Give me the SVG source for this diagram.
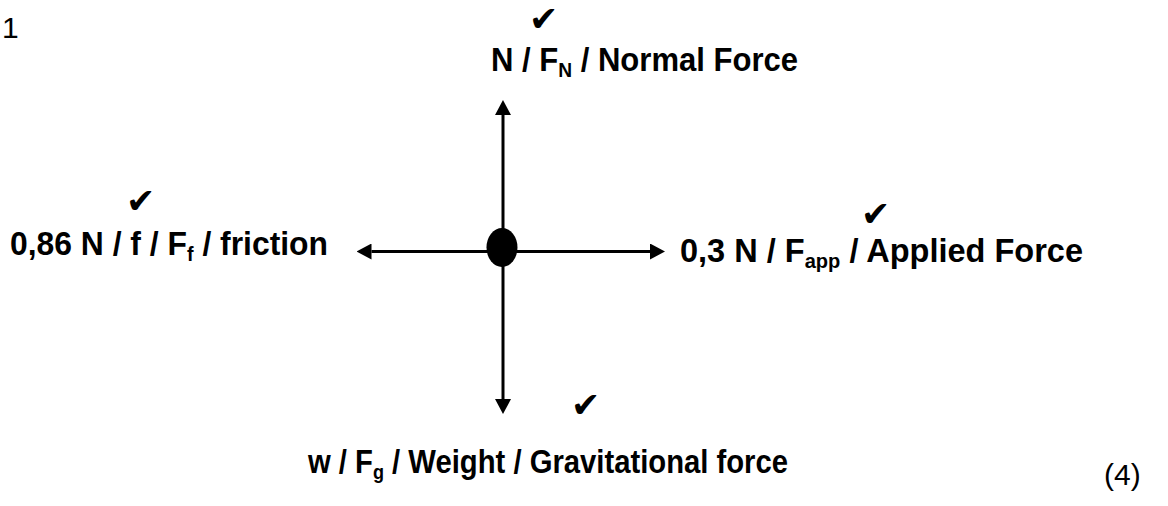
<svg xmlns="http://www.w3.org/2000/svg" width="1168" height="506" viewBox="0 0 1168 506">
<style>
.lbl{font-family:"Liberation Sans",Arial,sans-serif;font-weight:bold;font-size:34px;fill:#000}
.sub{font-size:21px}
.chk{font-family:"DejaVu Sans",sans-serif;font-size:35px;fill:#000}
.plain{font-family:"Liberation Sans",Arial,sans-serif;font-size:30px;fill:#000}
.force{stroke:#000;stroke-width:3;fill:none;marker-end:url(#arrow)}
</style>
<defs>
<marker id="arrow" viewBox="0 -8 15 16" markerWidth="15" markerHeight="16" refX="0" refY="0" markerUnits="userSpaceOnUse" orient="auto">
<path d="M0,-8 L15,0 L0,8 Z" fill="#000"/>
</marker>
</defs>
<rect width="1168" height="506" fill="#fff"/>
<text class="plain" x="2" y="38">1</text>
<g id="connectors">
<line class="force" x1="503" y1="248" x2="503" y2="115"/>
<line class="force" x1="503" y1="248" x2="503" y2="399"/>
<line class="force" x1="503" y1="251.5" x2="371.5" y2="251.5"/>
<line class="force" x1="503" y1="251.5" x2="650" y2="251.5"/>
</g>
<g id="object">
<ellipse cx="502" cy="247.5" rx="15.5" ry="19.5" fill="#000"/>
</g>
<g id="normal">
<text class="chk" x="529" y="31">✔</text>
<text class="lbl" x="491" y="71" textLength="307" lengthAdjust="spacingAndGlyphs">N / F<tspan class="sub" dy="6">N</tspan><tspan dy="-6"> / Normal Force</tspan></text>
</g>
<g id="friction">
<text class="chk" x="126" y="213">✔</text>
<text class="lbl" x="10" y="255" textLength="318" lengthAdjust="spacingAndGlyphs">0,86 N / f / F<tspan class="sub" dy="6">f</tspan><tspan dy="-6"> / friction</tspan></text>
</g>
<g id="applied">
<text class="chk" x="861" y="226">✔</text>
<text class="lbl" x="680" y="262" textLength="403" lengthAdjust="spacingAndGlyphs">0,3 N / F<tspan class="sub" dy="6">app</tspan><tspan dy="-6"> / Applied Force</tspan></text>
</g>
<g id="weight">
<text class="chk" x="571" y="417">✔</text>
<text class="lbl" x="308" y="473" textLength="480" lengthAdjust="spacingAndGlyphs">w / F<tspan class="sub" dy="6">g</tspan><tspan dy="-6"> / Weight / Gravitational force</tspan></text>
</g>
<text class="plain" x="1104" y="485" font-size="33">(4)</text>
</svg>
